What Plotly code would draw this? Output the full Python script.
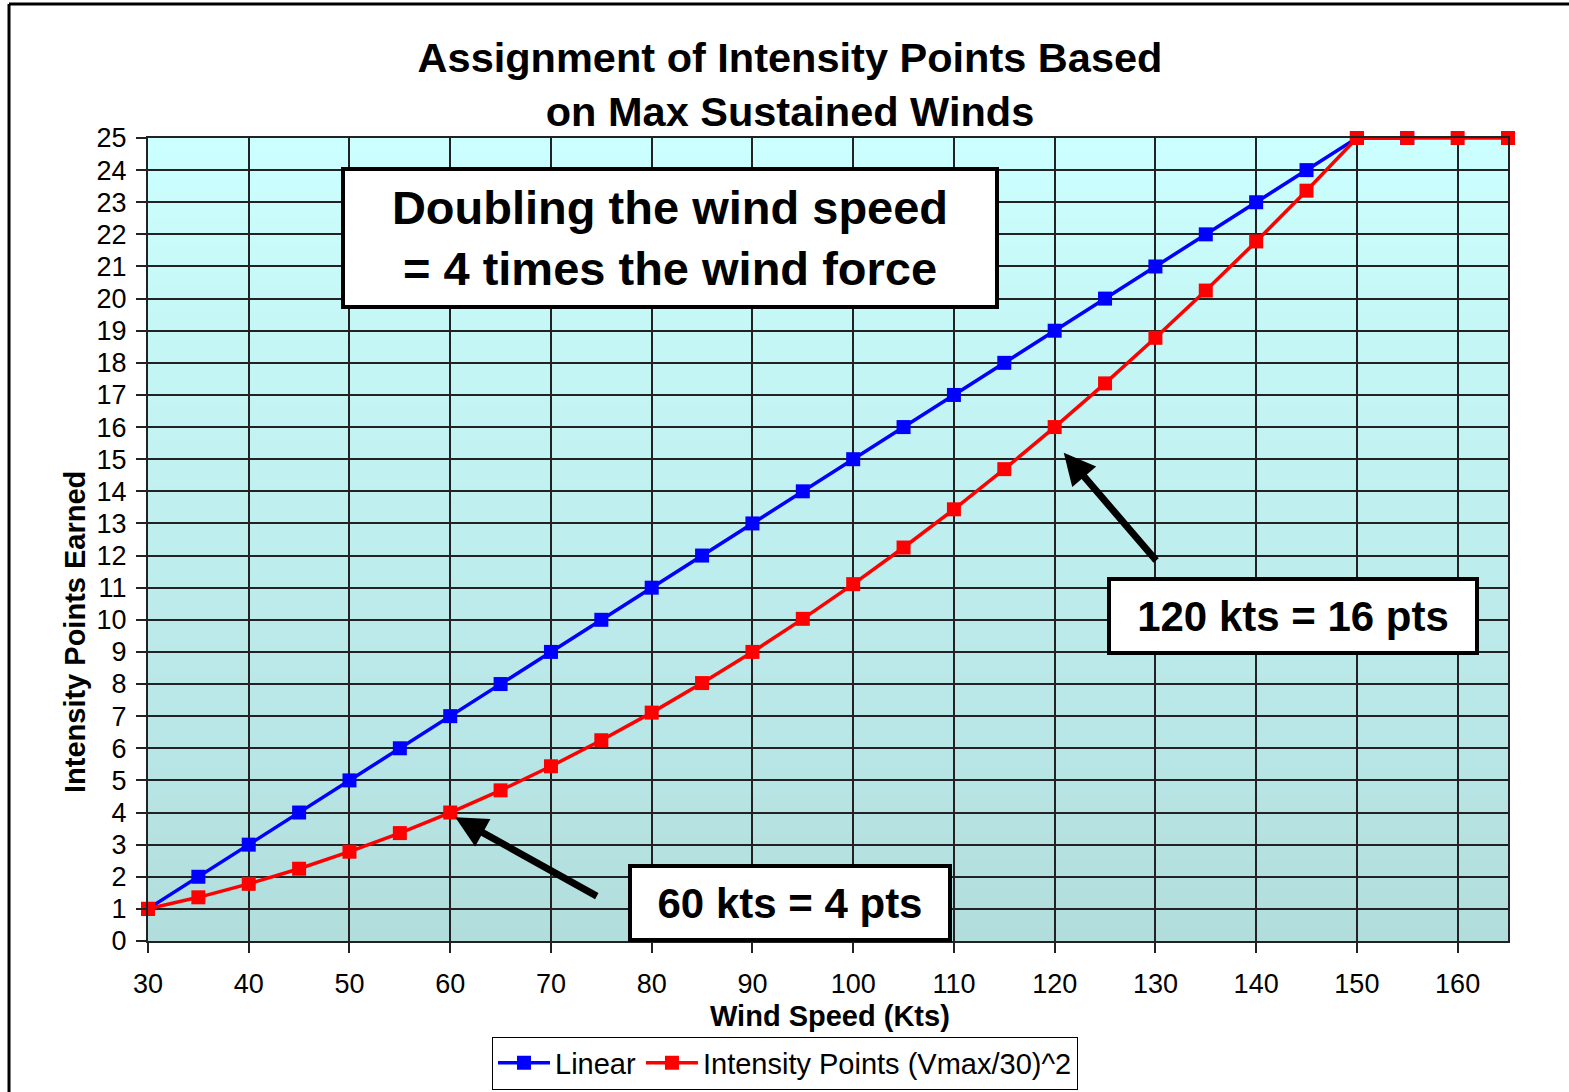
import plotly.graph_objects as go

# ---- data ----
wind_linear = [30, 35, 40, 45, 50, 55, 60, 65, 70, 75, 80, 85, 90, 95, 100,
               105, 110, 115, 120, 125, 130, 135, 140, 145, 150, 155]
pts_linear = [1, 2, 3, 4, 5, 6, 7, 8, 9, 10, 11, 12, 13, 14, 15,
              16, 17, 18, 19, 20, 21, 22, 23, 24, 25, 25]

wind_sq = [30, 35, 40, 45, 50, 55, 60, 65, 70, 75, 80, 85, 90, 95, 100,
           105, 110, 115, 120, 125, 130, 135, 140, 145, 150, 155, 160, 165]
pts_sq = [1.0, 1.36, 1.78, 2.25, 2.78, 3.36, 4.0, 4.69, 5.44, 6.25, 7.11, 8.03,
          9.0, 10.03, 11.11, 12.25, 13.44, 14.69, 16.0, 17.36, 18.78, 20.25,
          21.78, 23.36, 25.0, 25.0, 25.0, 25.0]

x_ticks = list(range(30, 161, 10))
y_ticks = list(range(0, 26))

FONT = "Liberation Sans, Arial, sans-serif"

fig = go.Figure()
fig.add_trace(go.Scatter(
    x=wind_linear, y=pts_linear, mode="lines+markers", name="Linear",
    line=dict(color="#0000FF", width=3.5),
    marker=dict(symbol="square", size=14, color="#0000FF"),
    cliponaxis=False,
))
fig.add_trace(go.Scatter(
    x=wind_sq, y=pts_sq, mode="lines+markers", name="Intensity Points (Vmax/30)^2",
    line=dict(color="#FF0000", width=3.5),
    marker=dict(symbol="square", size=14, color="#FF0000"),
    cliponaxis=False,
))

# gradient background (top light cyan -> bottom muted teal)
shapes = []
n = 60
top = (204, 255, 255)
bot = (178, 221, 221)
for i in range(n):
    t = (i + 0.5) / n
    c = tuple(round(bot[k] + (top[k] - bot[k]) * t) for k in range(3))
    shapes.append(dict(type="rect", xref="x domain", yref="y domain",
                       x0=0, x1=1, y0=i / n, y1=(i + 1) / n + 0.002,
                       fillcolor="rgb(%d,%d,%d)" % c, line=dict(width=0),
                       layer="below"))

# outer frame (left and top)
shapes.append(dict(type="line", xref="paper", yref="paper",
                   x0=-0.1022, x1=-0.1022, y0=-0.2, y1=1.1669,
                   line=dict(color="black", width=3)))
shapes.append(dict(type="line", xref="paper", yref="paper",
                   x0=-0.1022, x1=1.06, y0=1.1669, y1=1.1669,
                   line=dict(color="black", width=3)))
fig.update_layout(shapes=shapes)

annotations = [
    dict(text="<b>Doubling the wind speed<br>= 4 times the wind force</b>",
         xref="paper", yref="paper", x=(670 - 148) / 1360, y=(941 - 238) / 803,
         xanchor="center", yanchor="middle", showarrow=False,
         font=dict(family=FONT, size=47, color="black"),
         bgcolor="white", bordercolor="black", borderwidth=4,
         width=650, height=134, borderpad=0),
    dict(text="<b>120 kts = 16 pts</b>",
         xref="paper", yref="paper", x=(1293 - 148) / 1360, y=(941 - 616) / 803,
         xanchor="center", yanchor="middle", showarrow=False,
         font=dict(family=FONT, size=42, color="black"),
         bgcolor="white", bordercolor="black", borderwidth=4,
         width=364, height=70, borderpad=0),
    dict(text="<b>60 kts = 4 pts</b>",
         xref="paper", yref="paper", x=(790 - 148) / 1360, y=(941 - 903) / 803,
         xanchor="center", yanchor="middle", showarrow=False,
         font=dict(family=FONT, size=42, color="black"),
         bgcolor="white", bordercolor="black", borderwidth=4,
         width=316, height=70, borderpad=0),
    # arrows
    dict(x=120.9, y=15.2, ax=130.2, ay=11.8, xref="x", yref="y",
         axref="x", ayref="y", text="", showarrow=True,
         arrowhead=2, arrowsize=0.9, arrowwidth=7, arrowcolor="black"),
    dict(x=60.5, y=3.85, ax=74.7, ay=1.37, xref="x", yref="y",
         axref="x", ayref="y", text="", showarrow=True,
         arrowhead=2, arrowsize=0.9, arrowwidth=7, arrowcolor="black"),
    # y axis title
    dict(text="<b>Intensity Points Earned</b>", textangle=-90,
         xref="paper", yref="paper", x=(75 - 148) / 1360, y=(941 - 632) / 803,
         xanchor="center", yanchor="middle", showarrow=False,
         font=dict(family=FONT, size=29, color="black")),
    # x axis title
    dict(text="<b>Wind Speed (Kts)</b>",
         xref="paper", yref="paper", x=(830 - 148) / 1360, y=(941 - 1016) / 803,
         xanchor="center", yanchor="middle", showarrow=False,
         font=dict(family=FONT, size=29, color="black")),
]
fig.update_layout(annotations=annotations)

fig.update_layout(
    width=1569, height=1092,
    margin=dict(l=148, r=61, t=138, b=151, autoexpand=False),
    paper_bgcolor="white",
    plot_bgcolor="rgba(0,0,0,0)",
    font=dict(family=FONT, color="black"),
    title=dict(text="<b>Assignment of Intensity Points Based<br>on Max Sustained Winds</b>",
               x=790 / 1569, xanchor="center", y=1 - 72 / 1092, yanchor="middle",
               font=dict(family=FONT, size=41.5, color="black")),
    legend=dict(orientation="h", x=(785 - 148) / 1360, xanchor="center",
                y=(941 - 1063) / 803, yanchor="middle",
                bordercolor="black", borderwidth=1, bgcolor="white",
                font=dict(family=FONT, size=29, color="black"),
                itemwidth=52, tracegroupgap=0),
    xaxis=dict(range=[30, 165], tickvals=x_ticks, ticktext=[str(v) for v in x_ticks],
               showgrid=True, gridcolor="#222222", gridwidth=2,
               showline=True, linecolor="#222222", linewidth=2, mirror=True,
               ticks="outside", ticklen=10, tickwidth=2, tickcolor="#222222",
               tickfont=dict(family=FONT, size=27, color="black"),
               ticklabelstandoff=8, automargin=False,
               zeroline=False),
    yaxis=dict(range=[0, 25], tickvals=y_ticks, ticktext=[str(v) for v in y_ticks],
               showgrid=True, gridcolor="#222222", gridwidth=2,
               showline=True, linecolor="#222222", linewidth=2, mirror=True,
               ticks="outside", ticklen=10, tickwidth=2, tickcolor="#222222",
               tickfont=dict(family=FONT, size=27, color="black"),
               ticklabelstandoff=4, automargin=False,
               zeroline=False),
)

fig.write_html("out.html")
